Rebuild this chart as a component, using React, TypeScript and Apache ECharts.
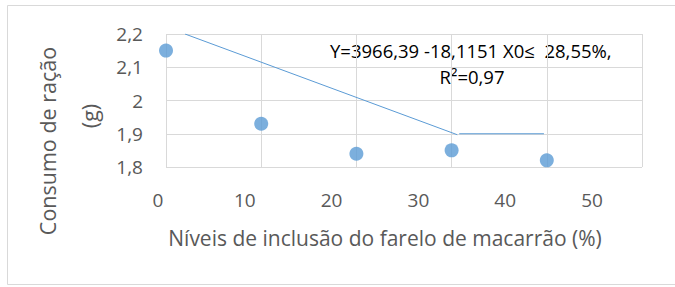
import React, { useEffect, useRef } from "react";
import * as echarts from "echarts";

const xValues = [0, 10, 20, 30, 40];
const yValues = [2.15, 1.93, 1.84, 1.85, 1.82];
const fitDescending: [number, number][] = [[2, 2.2], [30.6, 1.897]];
const fitPlateau: [number, number][] = [[30.8, 1.9], [39.7, 1.9]];
const xTicks = { min: 0, max: 50, interval: 10 };
const yTicks = { min: 1.8, max: 2.2, interval: 0.1 };
const equationLine1 = "Y=3966,39 -18,1151 X0≤  28,55%,";
const equationLine2 = "R²=0,97";
const xTitle = "Níveis de inclusão do farelo de macarrão (%)";
const yTitle1 = "Consumo de ração";
const yTitle2 = "(g)";

const FONT = "'Open Sans', sans-serif";
const BLUE = "#5b9bd5";
const GRID = "#d9d9d9";
const LABEL = "#595959";

export default function App() {
  const ref = useRef<HTMLDivElement>(null);
  useEffect(() => {
    if (!ref.current) return;
    const chart = echarts.init(ref.current, undefined, { renderer: "svg" });
    const fmt = (v: number) => String(Math.round(v * 10) / 10).replace(".", ",");
    chart.setOption({
      animation: false,
      backgroundColor: "#ffffff",
      grid: [
        { left: 166, top: 34, width: 476, height: 133 },
        { left: 158, top: 34, width: 434, height: 133 },
      ],
      xAxis: [
        {
          type: "value", gridIndex: 0, ...xTicks,
          axisLabel: { show: false },
          axisLine: { show: false },
          axisTick: { show: false },
          splitLine: { show: true, lineStyle: { color: GRID, width: 1 } },
        },
        {
          type: "value", gridIndex: 1, ...xTicks,
          axisLabel: { show: true, color: LABEL, fontSize: 19, fontFamily: FONT, margin: 23 },
          axisLine: { show: false },
          axisTick: { show: false },
          splitLine: { show: false },
        },
      ],
      yAxis: [
        {
          type: "value", gridIndex: 0, ...yTicks,
          axisLabel: { show: true, color: LABEL, fontSize: 19, fontFamily: FONT, margin: 23, formatter: fmt },
          axisLine: { show: false },
          axisTick: { show: false },
          splitLine: { show: true, lineStyle: { color: GRID, width: 1 } },
        },
        {
          type: "value", gridIndex: 1, ...yTicks,
          show: false,
        },
      ],
      series: [
        {
          type: "line", xAxisIndex: 0, yAxisIndex: 0,
          data: fitDescending, symbol: "none",
          lineStyle: { color: BLUE, width: 1 },
        },
        {
          type: "line", xAxisIndex: 0, yAxisIndex: 0,
          data: fitPlateau, symbol: "none",
          lineStyle: { color: BLUE, width: 1 },
        },
        {
          type: "scatter", xAxisIndex: 0, yAxisIndex: 0,
          data: xValues.map((x, i) => [x, yValues[i]]),
          symbolSize: 14,
          itemStyle: { color: BLUE },
        },
      ],
      graphic: [
        {
          type: "rect", z: -10, silent: true,
          shape: { x: 7.5, y: 5.5, width: 700, height: 279 },
          style: { fill: "none", stroke: GRID, lineWidth: 1 },
        },
        {
          type: "text", x: 330, y: 50,
          style: { text: equationLine1, fill: "#000000", font: `18.5px ${FONT}`, textAlign: "left", textVerticalAlign: "middle" },
        },
        {
          type: "text", x: 472, y: 76,
          style: { text: equationLine2, fill: "#000000", font: `18.5px ${FONT}`, textAlign: "center", textVerticalAlign: "middle" },
        },
        {
          type: "text", x: 385, y: 238,
          style: { text: xTitle, fill: LABEL, font: `21px ${FONT}`, textAlign: "center", textVerticalAlign: "middle" },
        },
        {
          type: "text", x: 47, y: 141, rotation: Math.PI / 2,
          style: { text: yTitle1, fill: LABEL, font: `21.5px ${FONT}`, textAlign: "center", textVerticalAlign: "middle" },
        },
        {
          type: "text", x: 89, y: 116, rotation: Math.PI / 2,
          style: { text: yTitle2, fill: LABEL, font: `21.5px ${FONT}`, textAlign: "center", textVerticalAlign: "middle" },
        },
      ],
    });
    return () => chart.dispose();
  }, []);
  return (
    <div
      ref={ref}
      style={{ position: "fixed", left: 0, top: 0, width: 675, height: 287 }}
    />
  );
}
